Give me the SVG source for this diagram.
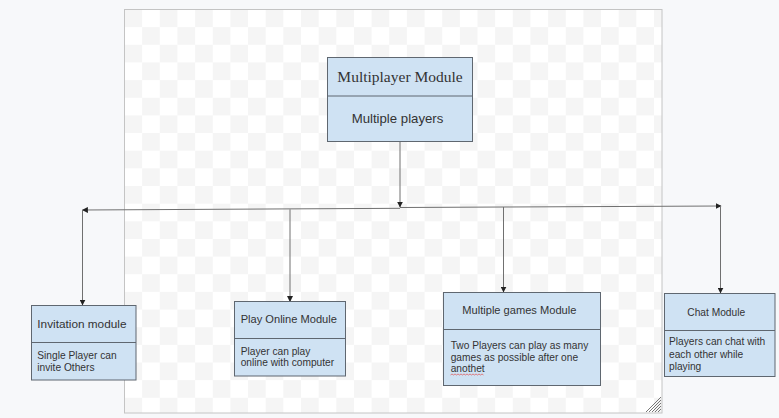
<svg xmlns="http://www.w3.org/2000/svg" width="779" height="418" viewBox="0 0 779 418">
<defs>
<pattern id="checker" x="124.5" y="9.5" width="35.3" height="35.3" patternUnits="userSpaceOnUse">
<rect x="0" y="0" width="35.3" height="35.3" fill="#ffffff"/>
<rect x="0" y="0" width="17.65" height="17.65" fill="#f5f5f5"/>
<rect x="17.65" y="17.65" width="17.65" height="17.65" fill="#f5f5f5"/>
</pattern>
<marker id="arr" viewBox="0 0 10 10" refX="9" refY="5" markerWidth="6" markerHeight="6" markerUnits="userSpaceOnUse" orient="auto">
<path d="M0,0 L10,5 L0,10 Z" fill="#222"/>
</marker>
<style>
.box{fill:#cfe2f3;stroke:#5f6770;stroke-width:1}
.div{stroke:#5f6770;stroke-width:1}
.t{font-family:"Liberation Sans",Arial,sans-serif;fill:#333}
.b{font-family:"Liberation Sans",Arial,sans-serif;fill:#333;font-size:10.2px}
.c{fill:none;stroke:#707070;stroke-width:1}
</style>
</defs>
<rect x="0" y="0" width="779" height="418" fill="#f7f8fa"/>
<rect x="124.5" y="9.5" width="537.5" height="403.5" fill="url(#checker)" stroke="#c4c4c4" stroke-width="1"/>
<g id="resize-handle" stroke="#555" stroke-width="0.8">
<line x1="646" y1="412" x2="661" y2="397"/>
<line x1="649" y1="412" x2="661" y2="400"/>
<line x1="652" y1="412" x2="661" y2="403"/>
<line x1="655" y1="412" x2="661" y2="406"/>
<line x1="658" y1="412" x2="661" y2="409"/>
</g>
<g id="connectors">
<line class="c" x1="400" y1="142" x2="400" y2="207" marker-end="url(#arr)"/>
<line class="c" x1="400" y1="208.3" x2="82.5" y2="210" marker-end="url(#arr)"/>
<line class="c" x1="400" y1="207.5" x2="721" y2="206" marker-end="url(#arr)"/>
<line class="c" x1="82.5" y1="210" x2="82.5" y2="305" marker-end="url(#arr)"/>
<line class="c" x1="290" y1="209.3" x2="290" y2="301.5" marker-end="url(#arr)"/>
<line class="c" x1="503.5" y1="207" x2="503.5" y2="292" marker-end="url(#arr)"/>
<line class="c" x1="720.5" y1="206" x2="720.5" y2="293" marker-end="url(#arr)"/>
</g>
<g id="multiplayer-module">
<rect class="box" x="327.5" y="57.5" width="145" height="84"/>
<line class="div" x1="327.5" y1="96" x2="472.5" y2="96"/>
<text x="400" y="81.7" text-anchor="middle" font-family="'Liberation Serif','Times New Roman',serif" font-size="15.5" fill="#333">Multiplayer Module</text>
<text class="t" x="351.7" y="123.3" font-size="13.2">Multiple players</text>
</g>
<g id="invitation-module">
<rect class="box" x="31.5" y="305.5" width="104.5" height="74.5"/>
<line class="div" x1="31.5" y1="342.5" x2="136" y2="342.5"/>
<text class="t" x="37.3" y="328.3" font-size="11.8">Invitation module</text>
<text class="b" x="37.3" y="359.3">Single Player can</text>
<text class="b" x="37.3" y="371">invite Others</text>
</g>
<g id="play-online-module">
<rect class="box" x="234.5" y="301.5" width="111" height="74.5"/>
<line class="div" x1="234.5" y1="338.5" x2="345.5" y2="338.5"/>
<text class="t" x="240.7" y="323.3" font-size="11.1">Play Online Module</text>
<text class="b" x="240.7" y="355">Player can play</text>
<text class="b" x="240.7" y="366">online with computer</text>
</g>
<g id="multiple-games-module">
<rect class="box" x="443.5" y="292.5" width="157" height="93"/>
<line class="div" x1="443.5" y1="329.5" x2="600.5" y2="329.5"/>
<text class="t" x="462.3" y="314.3" font-size="11.1">Multiple games Module</text>
<text class="b" x="450.7" y="349.3">Two Players can play as many</text>
<text class="b" x="450.7" y="361">games as possible after one</text>
<text class="b" x="450.7" y="372.3">anothet</text>
<path d="M450.5,375 l1.5,-1 l1.5,1 l1.5,-1 l1.5,1 l1.5,-1 l1.5,1 l1.5,-1 l1.5,1 l1.5,-1 l1.5,1 l1.5,-1 l1.5,1 l1.5,-1 l1.5,1 l1.5,-1 l1.5,1 l1.5,-1 l1.5,1 l1.5,-1 l1.5,1 l1.5,-1 l1.5,1" fill="none" stroke="#e05050" stroke-width="0.7"/>
</g>
<g id="chat-module">
<rect class="box" x="664.5" y="293.5" width="110.5" height="83"/>
<line class="div" x1="664.5" y1="330.5" x2="775" y2="330.5"/>
<text class="t" x="687.3" y="315.7" font-size="10.2">Chat Module</text>
<text class="b" x="669" y="345" font-size="10.9">Players can chat with</text>
<text class="b" x="669" y="357.5" font-size="10.9">each other while</text>
<text class="b" x="669" y="370" font-size="10.9">playing</text>
</g>
</svg>
